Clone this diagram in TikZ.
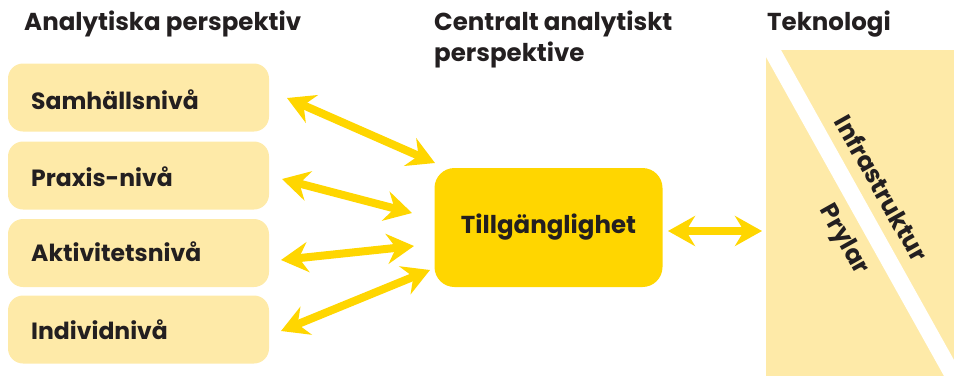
\documentclass[tikz,border=0pt]{standalone}
\usepackage{fontspec}
\setmainfont{Poppins}
\usetikzlibrary{arrows.meta}
\definecolor{lightyel}{HTML}{FEEAA8}
\definecolor{mainyel}{HTML}{FFD600}
\definecolor{txt}{HTML}{231F20}
\tikzset{
  levelbox/.style={fill=lightyel, rounded corners=15pt, minimum width=261pt, minimum height=68pt, inner sep=0pt},
  bigfont/.style={font=\fontsize{24.5}{31}\selectfont\bfseries, text=txt, inner sep=0pt},
  lvltext/.style={bigfont, font=\fontsize{23.5}{28}\selectfont\bfseries, anchor=west},
  heading/.style={bigfont, anchor=north west, align=left},
  techtext/.style={bigfont, rotate=-60.7},
  dblarrow/.style={draw=mainyel, line width=8pt, {Stealth[length=27pt,width=30pt,inset=9pt]}-{Stealth[length=27pt,width=30pt,inset=9pt]}},
}
\begin{document}
\begin{tikzpicture}[x=1pt,y=-1pt]
\useasboundingbox (0,0) rectangle (954,376);
% headings
\node[heading] (h1) at (24,11) {Analytiska perspektiv};
\node[heading] (h2) at (434,11) {Centralt analytiskt\\perspektive};
\node[heading] (h3) at (767,11) {Teknologi};
% level boxes
\node[levelbox] (b1) at (138.5,97.5) {};
\node[levelbox] (b2) at (138.5,175.5) {};
\node[levelbox] (b3) at (138.5,253) {};
\node[levelbox] (b4) at (138.5,329.5) {};
\node[lvltext] (t1) at (31,100) {Samhällsnivå};
\node[lvltext] (t2) at (31,177) {Praxis-nivå};
\node[lvltext] (t3) at (31,252) {Aktivitetsnivå};
\node[lvltext] (t4) at (31,330) {Individnivå};
% central box
\node[fill=mainyel, rounded corners=20pt, minimum width=228pt, minimum height=119pt, bigfont] (c) at (548.5,227.5) {Tillgänglighet};
% technology panel
\fill[lightyel] (766,50) rectangle (954,376);
\fill[white] (766,50) -- (781,50) -- (954,360) -- (954,376) -- (944,376) -- (766,57) -- cycle;
\node[techtext] (infra) at (882,188) {Infrastruktur};
\node[techtext] (pryl) at (843,240) {Prylar};
% arrow end points
\coordinate (a1l) at (287,98);  \coordinate (a1r) at (435,163);
\coordinate (a2l) at (282,179); \coordinate (a2r) at (412,213);
\coordinate (a3l) at (281,260); \coordinate (a3r) at (414,246);
\coordinate (a4l) at (281,331); \coordinate (a4r) at (430,270);
\coordinate (a5l) at (668,231); \coordinate (a5r) at (762,231);
\draw[dblarrow] (a1l) -- (a1r);
\draw[dblarrow] (a2l) -- (a2r);
\draw[dblarrow] (a3l) -- (a3r);
\draw[dblarrow] (a4l) -- (a4r);
\draw[dblarrow] (a5l) -- (a5r);
\end{tikzpicture}
\end{document}
